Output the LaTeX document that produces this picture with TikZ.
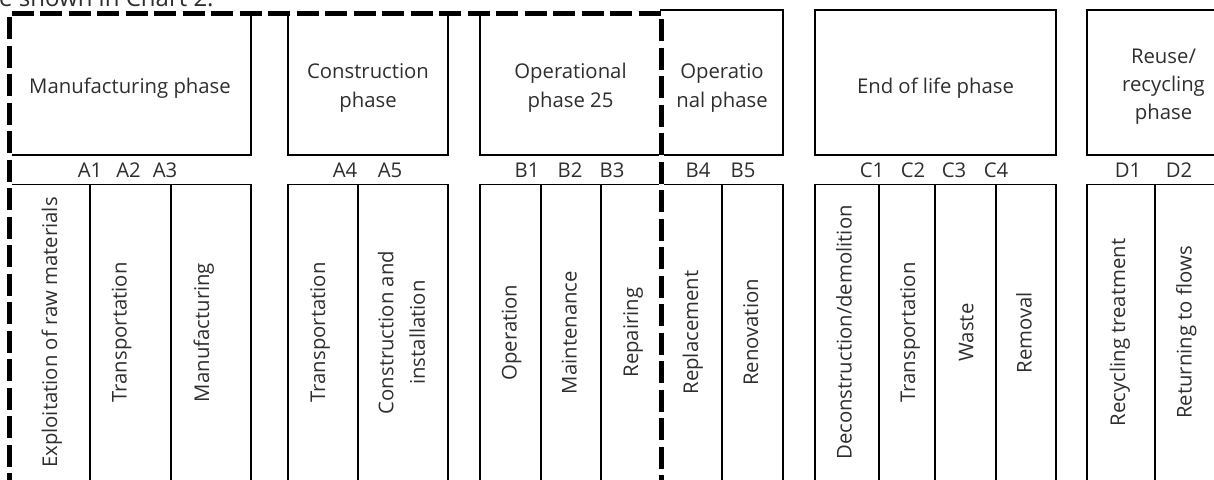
\documentclass[tikz,border=0pt]{standalone}
\usepackage{fontspec}
\setmainfont{Open Sans}
\begin{document}
\begin{tikzpicture}[x=1pt,y=-1pt,
  lw/.style={line width=1.3pt},
  phasebox/.style={draw,lw,inner sep=0pt,outer sep=0pt},
  colbox/.style={draw,lw,inner sep=0pt,outer sep=0pt,minimum height=315.5pt},
  txt/.style={font=\fontsize{20.3}{28.3}\selectfont,text=black!82,inner sep=0pt,outer sep=0pt,align=center},
  vtxt/.style={txt,rotate=90,anchor=base},
  code/.style={txt,anchor=base},
  border/.style={line width=5pt,dash pattern=on 22pt off 6.5pt,line cap=butt,line join=miter}]
\useasboundingbox (0,0) rectangle (1214,479);
\clip (0,0) rectangle (1214,479);

% clipped caption line at top
\node[anchor=base west,font=\fontsize{24}{28}\selectfont,text=black!82,inner sep=0pt] (note) at (-1,6) {e shown in Chart 2.};

% phase boxes
\node[phasebox,minimum width=242pt,minimum height=142pt] (man) at (130,84) {};
\node[phasebox,minimum width=160pt,minimum height=142pt] (con) at (368,84) {};
\node[phasebox,minimum width=181pt,minimum height=142pt] (opa) at (570.5,84) {};
\node[phasebox,minimum width=122pt,minimum height=145pt] (opb) at (722,82.5) {};
\node[phasebox,minimum width=241pt,minimum height=145pt] (eol) at (935.5,82.5) {};
\node[phasebox,minimum width=153pt,minimum height=145pt] (reu) at (1163.5,82.5) {};

\node[txt] (tman) at ([yshift=-3.75pt]man.center) {Manufacturing phase};
\node[txt] (tcon) at ([yshift=-4pt]con.center) {Construction\\phase};
\node[txt] (topa) at ([yshift=-3.75pt]opa.center) {Operational\\phase 25};
\node[txt] (topb) at ([yshift=-5.5pt]opb.center) {Operatio\\nal phase};
\node[txt] (teol) at ([yshift=-5.25pt]eol.center) {End of life phase};
\node[txt] (treu) at ([yshift=-4.15pt]reu.center) {Reuse/\\recycling\\phase};

% module codes
\node[code] (a1) at (90,177) {A1};
\node[code] (a2) at (128.5,177) {A2};
\node[code] (a3) at (165,177) {A3};
\node[code] (a4) at (345,177) {A4};
\node[code] (a5) at (390,177) {A5};
\node[code] (b1) at (527,177) {B1};
\node[code] (b2) at (570,177) {B2};
\node[code] (b3) at (612,177) {B3};
\node[code] (b4) at (698,177) {B4};
\node[code] (b5) at (743,177) {B5};
\node[code] (c1) at (872,177) {C1};
\node[code] (c2) at (913,177) {C2};
\node[code] (c3) at (954,177) {C3};
\node[code] (c4) at (996,177) {C4};
\node[code] (d1) at (1128,177) {D1};
\node[code] (d2) at (1179,177) {D2};

% module columns
\node[colbox,minimum width=81pt] (k1) at (49.5,342.25) {};
\node[colbox,minimum width=81pt] (k2) at (130.5,342.25) {};
\node[colbox,minimum width=80pt] (k3) at (211,342.25) {};
\node[colbox,minimum width=70pt] (k4) at (323,342.25) {};
\node[colbox,minimum width=90pt] (k5) at (403,342.25) {};
\node[colbox,minimum width=61pt] (k6) at (510.5,342.25) {};
\node[colbox,minimum width=60pt] (k7) at (571,342.25) {};
\node[colbox,minimum width=60pt] (k8) at (631,342.25) {};
\node[colbox,minimum width=61pt] (k9) at (691.5,342.25) {};
\node[colbox,minimum width=61pt] (k10) at (752.5,342.25) {};
\node[colbox,minimum width=64pt] (k11) at (847,342.25) {};
\node[colbox,minimum width=56pt] (k12) at (907,342.25) {};
\node[colbox,minimum width=61pt] (k13) at (965.5,342.25) {};
\node[colbox,minimum width=60pt] (k14) at (1026,342.25) {};
\node[colbox,minimum width=68pt] (k15) at (1121,342.25) {};
\node[colbox,minimum width=85pt] (k16) at (1197.5,342.25) {};

% column texts
\node[vtxt] (v1) at (57,332.5) {Exploitation of raw materials};
\node[vtxt] (v2) at (126.7,332.5) {Transportation};
\node[vtxt] (v3) at (209,332.5) {Manufacturing};
\node[vtxt] (v4) at (325,332.5) {Transportation};
\node[txt,rotate=90,font=\fontsize{20.3}{31.7}\selectfont] (v5) at (401.5,332.5) {Construction and\\installation};
\node[vtxt] (v6) at (516.7,332.5) {Operation};
\node[vtxt] (v7) at (576.7,332.5) {Maintenance};
\node[vtxt] (v8) at (638,332.5) {Repairing};
\node[vtxt] (v9) at (698,332.5) {Replacement};
\node[vtxt] (v10) at (758,332.5) {Renovation};
\node[vtxt] (v11) at (851.7,332.5) {Deconstruction/demolition};
\node[vtxt] (v12) at (915,332.5) {Transportation};
\node[vtxt] (v13) at (973.3,332.5) {Waste};
\node[vtxt] (v14) at (1031.7,332.5) {Removal};
\node[vtxt] (v15) at (1125,332.5) {Recycling treatment};
\node[vtxt] (v16) at (1191.7,332.5) {Returning to flows};

% dashed system boundary
\coordinate (sb1) at (9,495);
\coordinate (sb2) at (9,13);
\coordinate (sb3) at (661,13);
\coordinate (sb4) at (661,495);
\draw[white,line width=5pt] (sb1) -- (sb2) -- (sb3) -- (sb4);
\draw[border] (sb1) -- (sb2) -- (sb3) -- (sb4);
\end{tikzpicture}
\end{document}
